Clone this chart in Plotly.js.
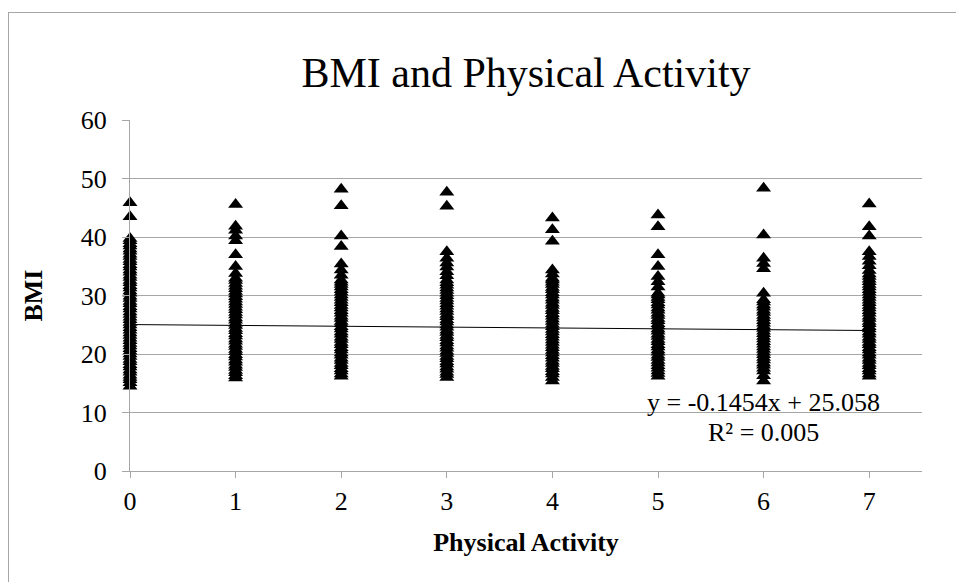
<!DOCTYPE html>
<html>
<head>
<meta charset="utf-8">
<script src="https://cdn.plot.ly/plotly-3.0.1.min.js"></script>
<style>
html,body{margin:0;padding:0;background:#fff;overflow:hidden}
#frame{position:absolute;left:8px;top:12px;width:1000px;height:700px;border:1.5px solid #a6a6a6;pointer-events:none;box-sizing:border-box}
</style>
</head>
<body>
<div id="chart" style="width:956px;height:582px"></div>
<div id="frame"></div>
<script>
// Physical activity categories (days) and BMI values
const activityDays = [0, 1, 2, 3, 4, 5, 6, 7];
const bmiDay0 = [14.5,15.1,15.6,16.0,16.4,16.9,17.3,17.8,18.2,18.7,19.1,19.6,20.0,20.5,20.9,21.4,21.8,22.3,22.7,23.2,23.6,24.1,24.5,25.0,25.4,25.9,26.3,26.8,27.2,27.7,28.1,28.6,29.0,29.5,29.9,30.4,30.8,31.3,31.7,32.2,32.6,33.1,33.5,34.0,34.4,34.9,35.3,35.8,36.2,36.7,37.1,37.6,38.0,38.5,38.9,39.4,39.8,43.5,45.9];
const bmiDay1 = [15.9,16.3,16.8,17.2,17.7,18.1,18.6,19.0,19.5,19.9,20.4,20.8,21.3,21.7,22.2,22.6,23.1,23.5,24.0,24.4,24.9,25.3,25.8,26.2,26.7,27.1,27.6,28.0,28.5,28.9,29.4,29.8,30.3,30.7,31.2,31.6,32.1,32.6,33.0,33.8,35.0,37.0,39.4,40.2,41.2,41.9,45.6];
const bmiDay2 = [16.2,16.6,17.1,17.5,18.0,18.4,18.9,19.3,19.8,20.2,20.7,21.1,21.6,22.0,22.5,22.9,23.4,23.8,24.3,24.7,25.2,25.6,26.1,26.5,27.0,27.4,27.9,28.3,28.8,29.2,29.7,30.1,30.6,31.0,31.5,31.9,32.3,32.7,33.5,34.4,35.4,38.4,40.2,45.4,48.2];
const bmiDay3 = [16.0,16.5,16.9,17.4,17.8,18.3,18.7,19.2,19.6,20.1,20.5,21.0,21.4,21.9,22.3,22.8,23.2,23.7,24.1,24.6,25.0,25.5,25.9,26.4,26.8,27.3,27.7,28.2,28.6,29.1,29.5,30.0,30.4,30.9,31.3,31.8,32.2,32.7,33.4,34.1,34.9,35.6,36.4,37.5,45.3,47.7];
const bmiDay4 = [15.4,16.0,16.6,17.0,17.5,17.9,18.4,18.8,19.3,19.7,20.2,20.6,21.1,21.5,22.0,22.4,22.9,23.3,23.8,24.2,24.7,25.1,25.6,26.0,26.5,26.9,27.4,27.8,28.3,28.7,29.2,29.6,30.1,30.5,31.0,31.4,31.9,32.3,32.7,33.0,33.7,34.4,39.3,41.3,43.3];
const bmiDay5 = [16.2,16.7,17.1,17.6,18.0,18.5,18.9,19.4,19.8,20.3,20.7,21.2,21.6,22.1,22.5,23.0,23.4,23.9,24.3,24.8,25.2,25.7,26.1,26.6,27.0,27.5,27.9,28.4,28.8,29.3,29.7,30.1,30.4,31.5,32.4,33.3,35.0,37.0,41.8,43.8];
const bmiDay6 = [15.4,16.3,17.1,17.6,18.1,18.5,19.0,19.4,19.9,20.3,20.8,21.2,21.7,22.1,22.6,23.0,23.5,23.9,24.4,24.8,25.3,25.7,26.2,26.6,27.1,27.5,28.0,28.4,28.9,29.3,30.4,34.6,35.5,36.4,40.4,48.4];
const bmiDay7 = [16.2,16.6,17.1,17.5,18.0,18.4,18.9,19.3,19.8,20.2,20.7,21.1,21.6,22.0,22.5,22.9,23.4,23.8,24.3,24.7,25.2,25.6,26.1,26.5,27.0,27.4,27.9,28.3,28.8,29.2,29.7,30.1,30.6,31.0,31.5,31.9,32.4,32.8,33.3,33.7,34.3,35.1,35.9,36.7,37.5,40.2,41.8,45.7];
const bmiByDay = [bmiDay0, bmiDay1, bmiDay2, bmiDay3, bmiDay4, bmiDay5, bmiDay6, bmiDay7];
// Trendline label values
const trendSlope = -0.1454;
const trendIntercept = 25.058;
const trendR2 = 0.005;
const xTickLabels = ['0','1','2','3','4','5','6','7'];
const yTickStep = 10;
const yMax = 60;

const xs = [], ys = [];
bmiByDay.forEach((arr, i) => arr.forEach(v => { xs.push(activityDays[i]); ys.push(v); }));

const xMin = activityDays[0], xMax = activityDays[activityDays.length - 1];
const trendX = [xMin, xMax];
const trendY = trendX.map(x => trendSlope * x + trendIntercept);

const serif = 'Liberation Serif, Times New Roman, serif';
const gridCol = '#a6a6a6';

const data = [
  {x: xs, y: ys, type: 'scatter', mode: 'markers',
   marker: {symbol: 'triangle-up', size: 13, color: '#000'}, cliponaxis: false, hoverinfo: 'none'},
  {x: trendX, y: trendY, type: 'scatter', mode: 'lines',
   line: {color: '#000', width: 1}, hoverinfo: 'none'}
];

const layout = {
  width: 956, height: 582,
  paper_bgcolor: '#fff', plot_bgcolor: '#fff',
  showlegend: false,
  margin: {l: 130, r: 34, t: 120, b: 111},
  font: {family: serif, color: '#000'},
  title: {text: 'BMI and Physical Activity', font: {family: serif, size: 42, color: '#000'},
          xref: 'paper', x: 0.5, xanchor: 'center', y: 0.875, yanchor: 'middle'},
  xaxis: {range: [0, 7.5], tickvals: activityDays, ticktext: xTickLabels,
          showgrid: false, zeroline: false, showline: true, linecolor: gridCol, linewidth: 1,
          ticks: 'outside', ticklen: 6, tickcolor: gridCol, tickwidth: 1, ticklabelstandoff: 1,
          tickfont: {family: serif, size: 26, color: '#000'},
          title: {text: '<b>Physical Activity</b>', font: {family: serif, size: 26, color: '#000'}, standoff: 17}},
  yaxis: {range: [0, yMax * 1.001], tick0: 0, dtick: yTickStep,
          showgrid: true, gridcolor: gridCol, gridwidth: 1, zeroline: false,
          showline: true, linecolor: gridCol, linewidth: 1,
          ticks: 'outside', ticklen: 7, tickcolor: gridCol, tickwidth: 1, ticklabelstandoff: 10,
          tickfont: {family: serif, size: 26, color: '#000'},
          title: {text: '<b>BMI</b>', font: {family: serif, size: 26, color: '#000'}, standoff: 30}},
  annotations: [
    {xref: 'paper', yref: 'paper', x: 0.8, y: 0.195, showarrow: false, xanchor: 'center', yanchor: 'middle',
     text: 'y = ' + trendSlope + 'x + ' + trendIntercept, font: {family: serif, size: 26, color: '#000'}},
    {xref: 'paper', yref: 'paper', x: 0.8, y: 0.11, showarrow: false, xanchor: 'center', yanchor: 'middle',
     text: 'R² = ' + trendR2, font: {family: serif, size: 26, color: '#000'}}
  ]
};

Plotly.newPlot('chart', data, layout, {staticPlot: true, displayModeBar: false});
</script>
</body>
</html>
